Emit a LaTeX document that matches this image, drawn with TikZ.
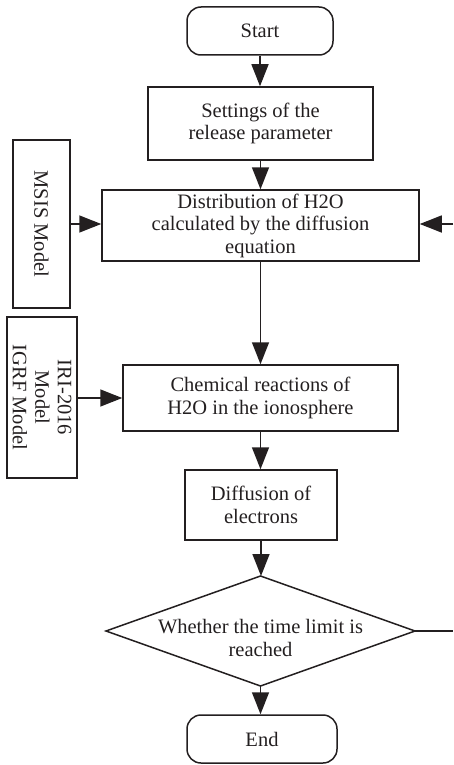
\documentclass[tikz,border=0pt]{standalone}
\usepackage{fontspec}
\setmainfont{Liberation Serif}
\usetikzlibrary{arrows.meta}
\definecolor{ink}{HTML}{231F20}
\tikzset{
  base/.style={draw=ink, line width=1.5pt, text=ink, inner sep=2pt,
    font=\fontsize{20.5}{22.5}\selectfont, align=center},
  term/.style={base, rectangle, rounded corners=14pt},
  procbox/.style={base, rectangle},
  sidebox/.style={base, rectangle},
  label/.style={base, draw=none},
  conn/.style={draw=ink, line width=1.5pt, -{Triangle[length=22pt,width=17pt]}},
  plainline/.style={draw=ink, line width=1.5pt}
}
\begin{document}
\begin{tikzpicture}[x=1pt,y=-1pt]
\useasboundingbox (0,0) rectangle (453,765);
\node[term, minimum width=146pt, minimum height=48pt] (start) at (260,31) {Start};
\node[procbox, minimum width=225pt, minimum height=73pt] (settings) at (260.5,123.5) {Settings of the\\release parameter};
\node[procbox, minimum width=317pt, minimum height=71pt] (dist) at (260.5,225.5) {Distribution of H2O\\calculated by the diffusion\\equation};
\node[sidebox, minimum width=57pt, minimum height=168pt] (msis) at (41.5,224) {};
\node[label, rotate=-90] (msist) at (msis.center) {MSIS Model};
\node[sidebox, minimum width=70pt, minimum height=161pt] (iri) at (42,397.5) {};
\node[label, rotate=-90] (irit) at (iri.center) {IRI-2016\\Model\\IGRF Model};
\node[procbox, minimum width=275pt, minimum height=66pt] (chem) at (260.5,398) {Chemical reactions of\\H2O in the ionosphere};
\node[procbox, minimum width=152pt, minimum height=70pt] (diff) at (261,505) {Diffusion of\\electrons};
% decision diamond
\coordinate (dtop) at (260.5,576);
\coordinate (dright) at (415,631);
\coordinate (dbot) at (260.5,686);
\coordinate (dleft) at (106,631);
\draw[plainline, line join=miter] (dtop) -- (dright) -- (dbot) -- (dleft) -- cycle;
\node[label] (dec) at (260.5,638) {Whether the time limit is\\reached};
\node[term, minimum width=150pt, minimum height=48pt] (end) at (262,739) {End};
\coordinate (rin) at (453,224);
\coordinate (rout) at (453,631);
\draw[conn] (start.south) -- (start.south |- settings.north);
\draw[conn] (settings.south) -- (settings.south |- dist.north);
\draw[conn] (dist.south) -- (dist.south |- chem.north);
\draw[conn] (chem.south) -- (chem.south |- diff.north);
\draw[conn] (diff.south) -- (diff.south |- dtop);
\draw[conn] (dbot) -- (dbot |- end.north);
\draw[conn] (msis.east) -- (msis.east -| dist.west);
\draw[conn] (iri.east |- chem.west) -- (chem.west);
\draw[conn] (rin) -- (rin -| dist.east);
\draw[plainline] (dright) -- (rout);
\end{tikzpicture}
\end{document}
